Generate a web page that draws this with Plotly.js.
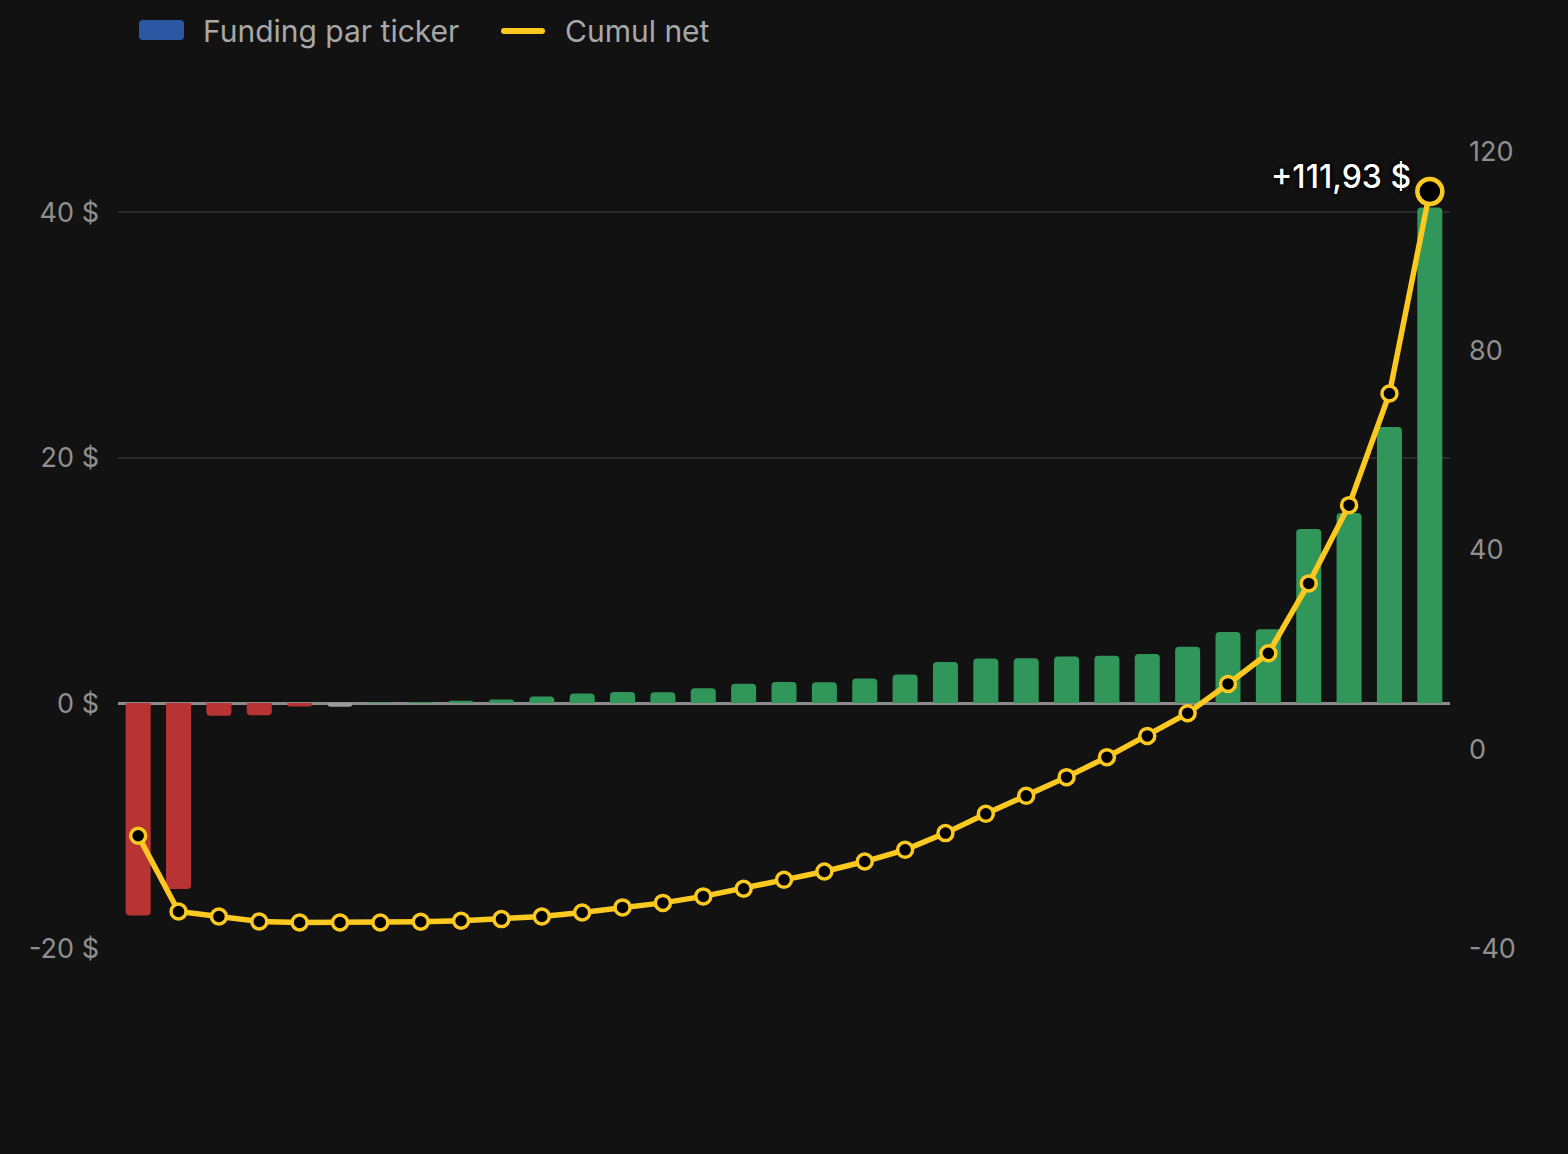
<!DOCTYPE html>
<html>
<head>
<meta charset="utf-8">
<script src="https://cdn.plot.ly/plotly-3.0.1.min.js"></script>
<style>
  html, body { margin: 0; padding: 0; background: #121212; }
  #chart { width: 1568px; height: 1154px; }
</style>
</head>
<body>
<div id="chart"></div>
<script>
// Ticker labels are redacted in the reference; placeholders keep the category order.
const tickers = ["T01","T02","T03","T04","T05","T06","T07","T08","T09","T10","T11",
                 "T12","T13","T14","T15","T16","T17","T18","T19","T20","T21","T22",
                 "T23","T24","T25","T26","T27","T28","T29","T30","T31","T32","T33"];

// Funding per ticker ($), left axis
const funding = [-17.30, -15.15, -1.02, -0.98, -0.28, -0.30, 0.05, 0.10, 0.20, 0.30, 0.54,
                 0.78, 0.90, 0.88, 1.22, 1.57, 1.72, 1.71, 2.00, 2.33, 3.36, 3.63,
                 3.66, 3.79, 3.87, 4.00, 4.60, 5.80, 6.02, 14.20, 15.50, 22.50, 40.40];

// Cumulative net ($), right axis
const cumul = [-17.34, -32.52, -33.52, -34.53, -34.73, -34.73, -34.73, -34.59, -34.39, -34.05, -33.52,
               -32.72, -31.70, -30.80, -29.50, -27.97, -26.17, -24.50, -22.50, -20.15, -16.80, -12.93,
               -9.32, -5.57, -1.56, 2.70, 7.26, 13.13, 19.28, 33.30, 49.00, 71.40, 111.93];

// index of the ticker drawn in neutral grey in the reference
const neutralTicker = "T06";

const leftTickVals = [-20, 0, 20, 40];
const leftTickText = ["-20 $", "0 $", "20 $", "40 $"];
const rightTickVals = [-40, 0, 40, 80, 120];
const rightTickText = ["-40", "0", "40", "80", "120"];

const finalLabel = "+111,93 $";
const legendLabels = ["Funding par ticker", "Cumul net"];

const RED = "#b83434", GREEN = "#31965a", GREY = "#9c9c9c", YELLOW = "#fbc91f";
const barColors = funding.map((v, i) =>
  tickers[i] === neutralTicker ? GREY : (v > 0 ? GREEN : RED));

const n = cumul.length;
const markerSizes = cumul.map((_, i) => i === n - 1 ? 25 : 15);
const markerLineW = cumul.map((_, i) => i === n - 1 ? 4.5 : 3.5);

const barTrace = {
  type: "bar",
  x: tickers,
  y: funding,
  yaxis: "y",
  marker: { color: barColors, cornerradius: 4, line: { width: 0 } },
  hoverinfo: "skip",
  showlegend: false
};

const lineTrace = {
  type: "scatter",
  mode: "lines+markers",
  x: tickers,
  y: cumul,
  yaxis: "y2",
  opacity: 1,
  line: { color: YELLOW, width: 5.5 },
  marker: { color: "#000000", opacity: 1, size: markerSizes,
            line: { color: YELLOW, width: markerLineW } },
  hoverinfo: "skip",
  showlegend: false,
  cliponaxis: false
};

const FONT = "Inter, Roboto, 'Noto Sans', sans-serif";
const L = 118, R = 118, T = 151, B = 205, W = 1568, H = 1154;
const pw = W - L - R, ph = H - T - B;
const px = x => (x - L) / pw;
const py = y => (H - B - y) / ph;

const layout = {
  width: W, height: H,
  margin: { l: L, r: R, t: T, b: B, pad: 0 },
  paper_bgcolor: "#121212",
  plot_bgcolor: "#121212",
  font: { family: FONT, color: "#8f8f8f" },
  bargap: 0.38,
  showlegend: false,
  xaxis: {
    type: "category",
    range: [-0.5, tickers.length - 0.5],
    showgrid: false, zeroline: false, showline: false,
    showticklabels: false, ticks: ""
  },
  yaxis: {
    range: [-20.04, 45],
    tickmode: "array", tickvals: leftTickVals, ticktext: leftTickText,
    showgrid: true, gridcolor: "#2a2a2a", gridwidth: 2,
    zeroline: true, zerolinecolor: "#8c8c8c", zerolinewidth: 3,
    showline: false, ticks: "",
    ticklabelstandoff: 18,
    tickfont: { family: FONT, size: 27, color: "#8f8f8f" }
  },
  yaxis2: {
    overlaying: "y", side: "right",
    range: [-40.05, 120.05],
    tickmode: "array", tickvals: rightTickVals, ticktext: rightTickText,
    showgrid: false, zeroline: false, showline: false, ticks: "",
    ticklabelstandoff: 18,
    tickfont: { family: FONT, size: 27, color: "#8f8f8f" }
  },
  shapes: [
    {
      type: "path", xref: "paper", yref: "paper",
      xsizemode: "pixel", ysizemode: "pixel",
      xanchor: px(139), yanchor: py(30),
      path: "M 4,-10 L 41,-10 Q 45,-10 45,-6 L 45,6 Q 45,10 41,10 L 4,10 Q 0,10 0,6 L 0,-6 Q 0,-10 4,-10 Z",
      fillcolor: "#2b57a3", line: { width: 0 }
    },
    {
      type: "path", xref: "paper", yref: "paper",
      xsizemode: "pixel", ysizemode: "pixel",
      xanchor: px(501), yanchor: py(31),
      path: "M 3,-3 L 41,-3 Q 44,-3 44,0 Q 44,3 41,3 L 3,3 Q 0,3 0,0 Q 0,-3 3,-3 Z",
      fillcolor: YELLOW, line: { width: 0 }
    }
  ],
  annotations: [
    {
      xref: "paper", yref: "paper", x: px(201), y: py(31),
      xanchor: "left", yanchor: "middle", showarrow: false,
      text: legendLabels[0],
      font: { family: FONT, size: 30, color: "#a8a8a8" }
    },
    {
      xref: "paper", yref: "paper", x: px(563), y: py(31),
      xanchor: "left", yanchor: "middle", showarrow: false,
      text: legendLabels[1],
      font: { family: FONT, size: 30, color: "#a8a8a8" }
    },
    {
      xref: "x", yref: "y2", x: tickers[n - 1], y: cumul[n - 1],
      xanchor: "right", yanchor: "middle", showarrow: false,
      xshift: -17, yshift: 15,
      text: finalLabel,
      font: { family: FONT, size: 32, color: "#ffffff", weight: 500,
              shadow: "0px 0px 4px #000, 0px 0px 4px #000, 0px 0px 2px #000" }
    }
  ]
};

Plotly.newPlot("chart", [barTrace, lineTrace], layout, { staticPlot: true, displayModeBar: false });
</script>
</body>
</html>
